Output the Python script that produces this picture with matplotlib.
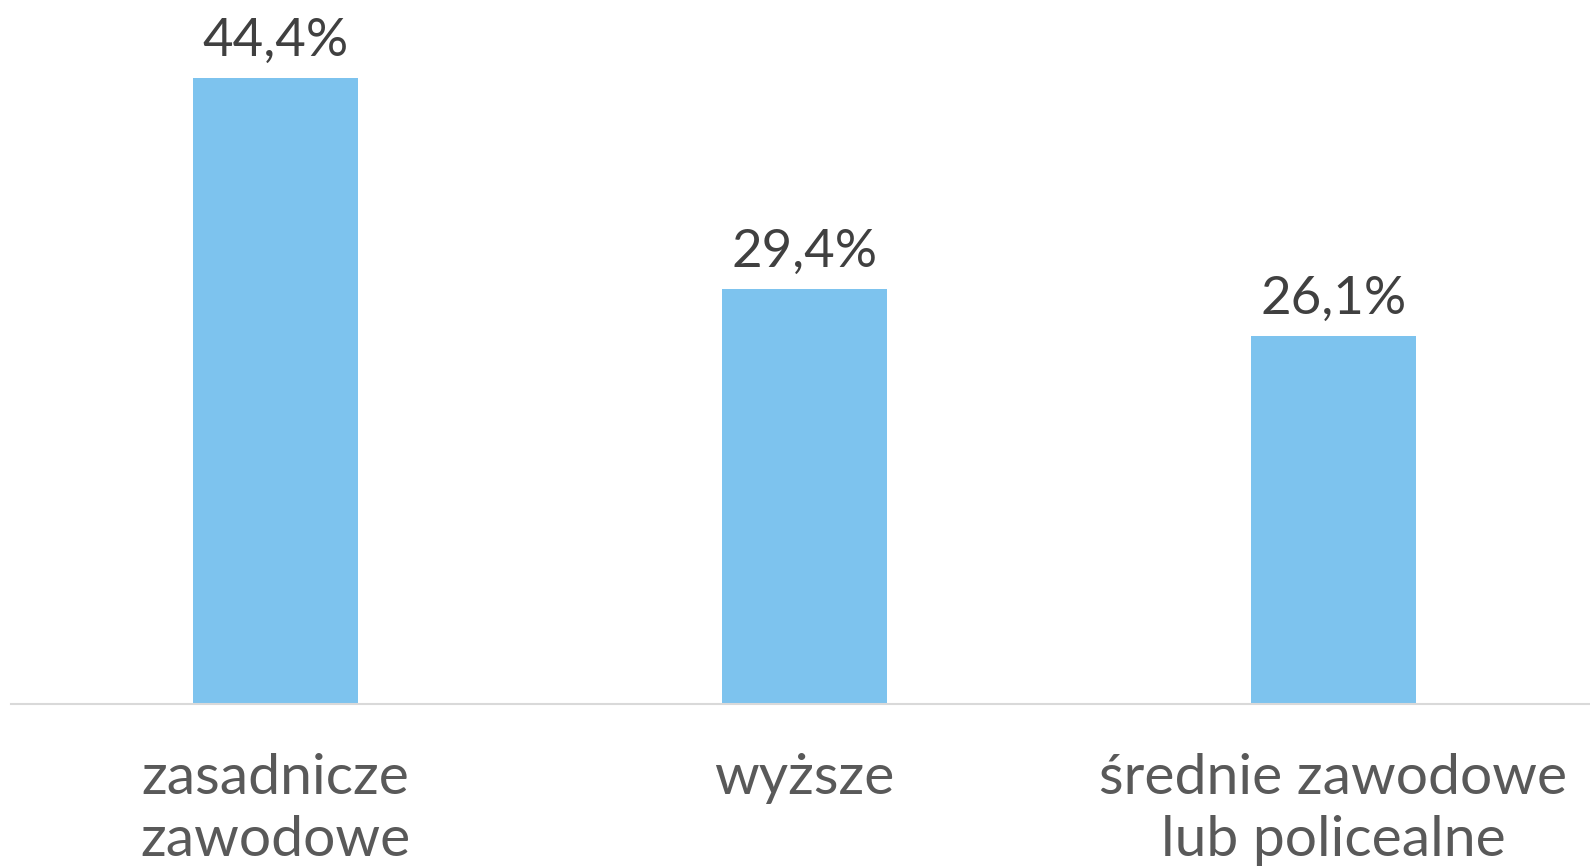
import matplotlib
matplotlib.use("Agg")
import matplotlib.pyplot as plt
from matplotlib.transforms import blended_transform_factory

categories = ["zasadnicze\nzawodowe", "wyższe", "średnie zawodowe\nlub policealne"]
values = [44.4, 29.4, 26.1]
value_labels = ["44,4%", "29,4%", "26,1%"]

plt.rcParams["font.family"] = ["Lato", "DejaVu Sans"]

fig = plt.figure(figsize=(15.9, 8.68), dpi=100)
# axis line starts at x~11 px, one category slot ~529 px, baseline at y~704 px
ax = fig.add_axes([11 / 1590, 1 - 704 / 868, 1587 / 1590, 704 / 868])

x = range(len(categories))
ax.bar(x, values, width=0.313, color="#7DC3EE", zorder=2)
ax.set_xlim(-0.5, 2.5)
ax.set_ylim(0, 49.93)

for xi, v, lab in zip(x, values, value_labels):
    ax.annotate(lab, (xi, v), xytext=(0, 16), textcoords="offset points",
                ha="center", va="baseline", fontsize=38, color="#404040")

trans = blended_transform_factory(ax.transData, ax.transAxes)
for xi, cat in zip(x, categories):
    ax.text(xi, -0.07, cat, transform=trans, ha="center", va="top",
            fontsize=41, color="#595959", linespacing=1.26)

for side in ["top", "right", "left"]:
    ax.spines[side].set_visible(False)
ax.spines["bottom"].set_color("#D9D9D9")
ax.spines["bottom"].set_linewidth(1.5)
ax.set_xticks([])
ax.set_yticks([])

fig.savefig("out.png", dpi=100)
